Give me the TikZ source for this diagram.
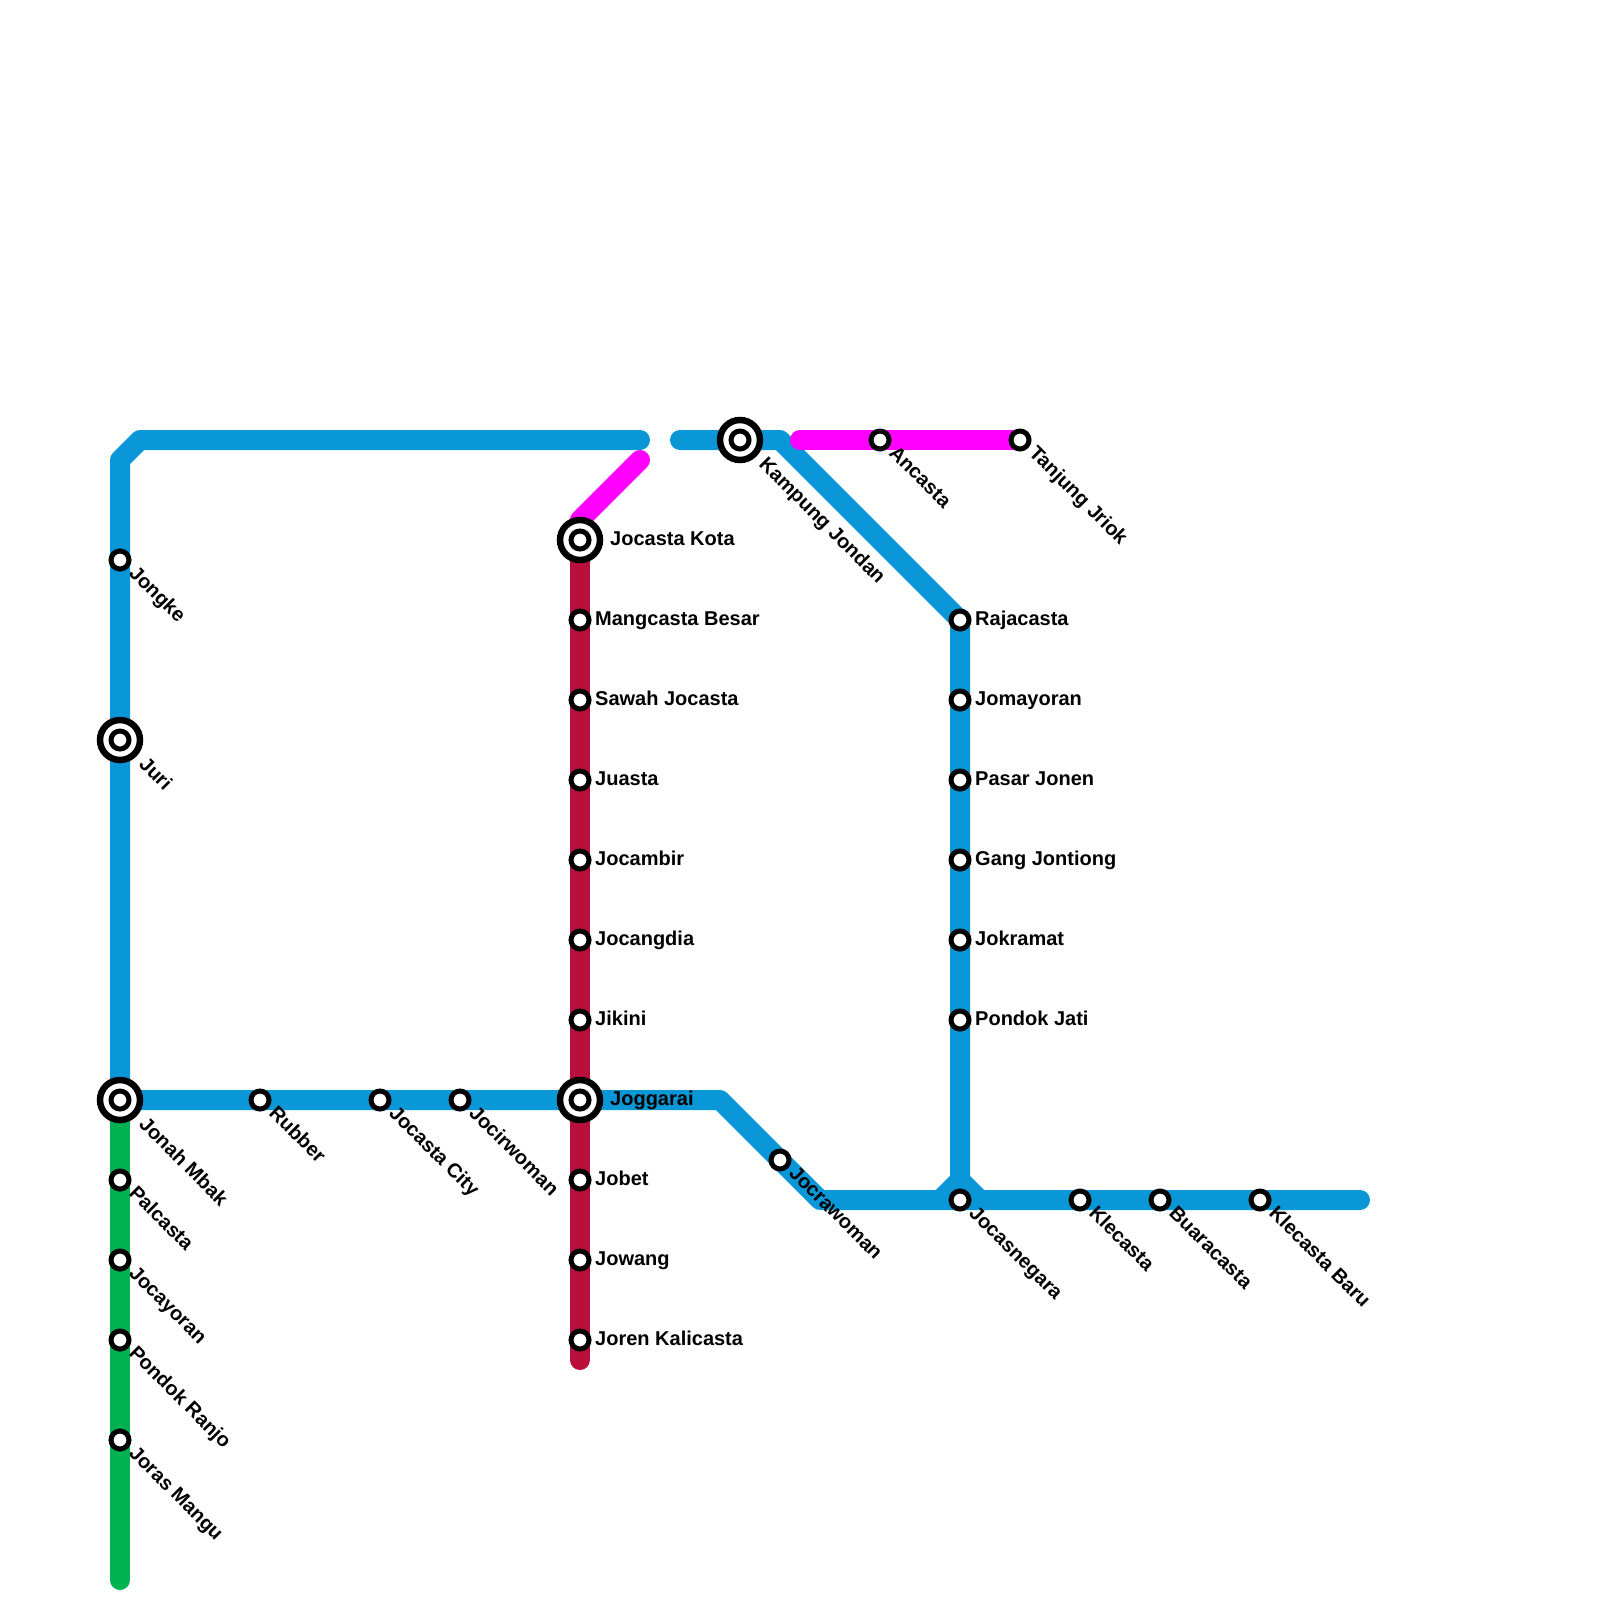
\documentclass[tikz,border=0pt]{standalone}
\usepackage{fontspec}
\setmainfont{Liberation Sans}
\definecolor{lblue}{HTML}{0997D8}
\definecolor{lred}{HTML}{BA0F3B}
\definecolor{lgreen}{HTML}{00B251}
\definecolor{lmag}{HTML}{FF00FF}
\tikzset{
  metro/.style={line width=20pt,line join=round,line cap=round},
  stn/.style={circle,draw=black,fill=white,line width=5pt,inner sep=0pt,minimum size=18pt},
  hub/.style={circle,draw=black,fill=white,line width=6.5pt,inner sep=0pt,minimum size=40pt},
  lab/.style={font=\fontsize{20}{22}\selectfont\bfseries,text=black,inner sep=0pt,anchor=base west},
  diag/.style={lab,rotate=-45},
}
\newcommand{\stnS}[4]{% name x y text (diagonal label)
  \node[stn] (#1) at (#2,#3) {};
  \node[diag] (#1L) at (#2+8,#3+14) {#4};
}
\newcommand{\stnH}[4]{% horizontal label
  \node[stn] (#1) at (#2,#3) {};
  \node[lab] (#1L) at (#2+15,#3+5) {#4};
}
\newcommand{\hubN}[3]{%
  \node[hub] (#1) at (#2,#3) {};
  \node[stn] (#1C) at (#1) {};
}
\begin{document}
\begin{tikzpicture}[x=1pt,y=-1pt]
\path[use as bounding box,fill=white] (0,0) rectangle (1600,1600);
% route points
\coordinate (a1) at (120,1100);
\coordinate (a2) at (120,460);
\coordinate (a3) at (140,440);
\coordinate (a4) at (640,440);
\coordinate (b1) at (680,440);
\coordinate (b2) at (780,440);
\coordinate (b3) at (960,620);
\coordinate (b4) at (960,1180);
\coordinate (b5) at (940,1200);
\coordinate (b6) at (980,1200);
\coordinate (c1) at (580,1100);
\coordinate (c2) at (720,1100);
\coordinate (c3) at (820,1200);
\coordinate (c4) at (1360,1200);
\coordinate (m1) at (800,440);
\coordinate (m2) at (1020,440);
\coordinate (m3) at (640,460);
\coordinate (m4) at (580,520);
\coordinate (r1) at (580,540);
\coordinate (r2) at (580,1360);
\coordinate (g1) at (120,1100);
\coordinate (g2) at (120,1580);
% lines
\draw[metro,lblue] (a1) -- (a2) -- (a3) -- (a4);
\draw[metro,lblue] (a1) -- (c1) -- (c2) -- (c3) -- (c4);
\draw[metro,lblue] (b1) -- (b2) -- (b3) -- (b4) -- (b5);
\draw[metro,lblue] (b4) -- (b6);
\draw[metro,lred] (r1) -- (r2);
\draw[metro,lgreen] (g1) -- (g2);
\draw[metro,lmag] (m1) -- (m2);
\draw[metro,lmag] (m3) -- (m4);
% hubs
\hubN{juri}{120}{740}
\node[diag] (juriL) at (138,765) {Juri};
\hubN{jonah}{120}{1100}
\node[diag] (jonahL) at (138,1125) {Jonah Mbak};
\hubN{kota}{580}{540}
\node[lab] (kotaL) at (610,545) {Jocasta Kota};
\hubN{joggarai}{580}{1100}
\node[lab] (joggaraiL) at (610,1105) {Joggarai};
\hubN{kampung}{740}{440}
\node[diag] (kampungL) at (758,465) {Kampung Jondan};
% diagonal-label stations
\stnS{jongke}{120}{560}{Jongke}
\stnS{palcasta}{120}{1180}{Palcasta}
\stnS{jocayoran}{120}{1260}{Jocayoran}
\stnS{ranjo}{120}{1340}{Pondok Ranjo}
\stnS{mangu}{120}{1440}{Joras Mangu}
\stnS{rubber}{260}{1100}{Rubber}
\stnS{city}{380}{1100}{Jocasta City}
\stnS{jocirwoman}{460}{1100}{Jocirwoman}
\stnS{jocrawoman}{780}{1160}{Jocrawoman}
\stnS{jocasnegara}{960}{1200}{Jocasnegara}
\stnS{klecasta}{1080}{1200}{Klecasta}
\stnS{buaracasta}{1160}{1200}{Buaracasta}
\stnS{baru}{1260}{1200}{Klecasta Baru}
\stnS{ancasta}{880}{440}{Ancasta}
\stnS{jriok}{1020}{440}{Tanjung Jriok}
% horizontal-label stations
\stnH{mangcasta}{580}{620}{Mangcasta Besar}
\stnH{sawah}{580}{700}{Sawah Jocasta}
\stnH{juasta}{580}{780}{Juasta}
\stnH{jocambir}{580}{860}{Jocambir}
\stnH{jocangdia}{580}{940}{Jocangdia}
\stnH{jikini}{580}{1020}{Jikini}
\stnH{jobet}{580}{1180}{Jobet}
\stnH{jowang}{580}{1260}{Jowang}
\stnH{joren}{580}{1340}{Joren Kalicasta}
\stnH{rajacasta}{960}{620}{Rajacasta}
\stnH{jomayoran}{960}{700}{Jomayoran}
\stnH{jonen}{960}{780}{Pasar Jonen}
\stnH{jontiong}{960}{860}{Gang Jontiong}
\stnH{jokramat}{960}{940}{Jokramat}
\stnH{jati}{960}{1020}{Pondok Jati}
\end{tikzpicture}
\end{document}
